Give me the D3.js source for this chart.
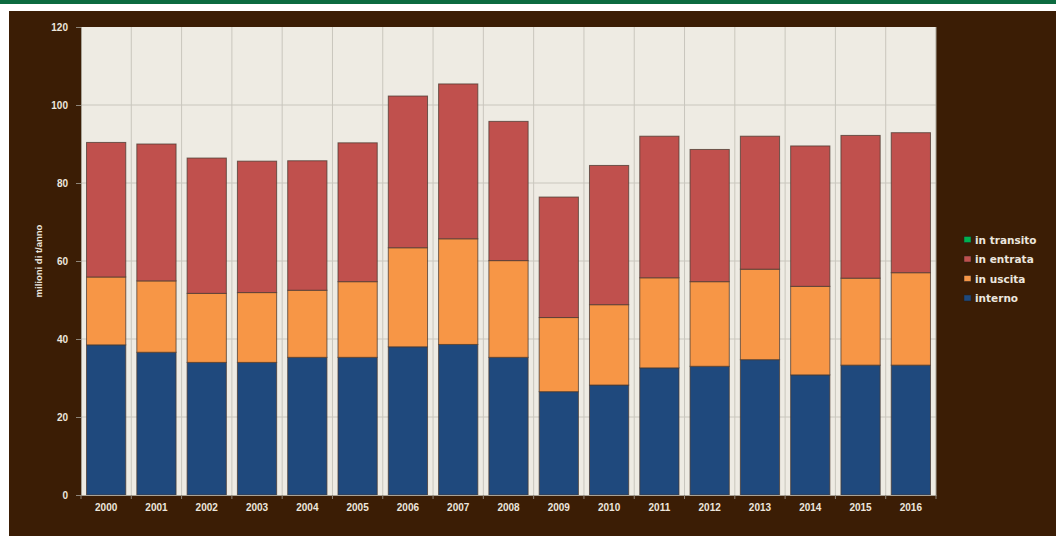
<!DOCTYPE html>
<html>
<head>
<meta charset="utf-8">
<script src="https://cdn.jsdelivr.net/npm/d3@7"></script>
<style>
  body { margin: 0; background: #fff; }
  svg { display: block; font-family: "DejaVu Sans", sans-serif; }
</style>
</head>
<body>
<svg id="chart" width="1056" height="536"></svg>
<script>
// anni e serie (milioni di t/anno)
const years = ["2000","2001","2002","2003","2004","2005","2006","2007","2008",
               "2009","2010","2011","2012","2013","2014","2015","2016"];
const interno  = [38.5, 36.6, 34.0, 34.0, 35.3, 35.3, 38.0, 38.6, 35.3, 26.5, 28.2, 32.6, 33.0, 34.7, 30.8, 33.3, 33.3];
// totali cumulati, poi convertiti in valori della serie
const cumUscita  = [55.9, 54.9, 51.7, 51.9, 52.5, 54.7, 63.4, 65.7, 60.1, 45.5, 48.8, 55.7, 54.7, 57.9, 53.5, 55.6, 57.0];
const cumEntrata = [90.4, 90.0, 86.4, 85.6, 85.7, 90.3, 102.3, 105.4, 95.8, 76.4, 84.5, 92.0, 88.6, 92.0, 89.5, 92.2, 92.9];
const uscita   = cumUscita.map((v, i) => +(v - interno[i]).toFixed(1));
const entrata  = cumEntrata.map((v, i) => +(v - cumUscita[i]).toFixed(1));
const transito = [0, 0, 0, 0, 0, 0, 0, 0, 0, 0, 0, 0, 0, 0, 0, 0, 0];
const keys = ["interno", "in uscita", "in entrata", "in transito"];
const yTicks = [0, 20, 40, 60, 80, 100, 120];

const data = years.map((y, i) => ({
  anno: y, "interno": interno[i], "in uscita": uscita[i],
  "in entrata": entrata[i], "in transito": transito[i]
}));

const svg = d3.select("#chart");
const margin = {top: 27, left: 81, bottom: 41, right: 120},
      width = 1056, height = 536;
const textCol = "#ece6de";

// sfondo
svg.append("rect").attr("x", 0).attr("y", 0).attr("width", width).attr("height", 4).attr("fill", "#0c6b40");
svg.append("rect").attr("x", 9).attr("y", 11).attr("width", width - 9).attr("height", height - 11).attr("fill", "#3b1d05");

var x = d3.scaleBand().domain(years).range([margin.left, 936]).paddingInner(0).paddingOuter(0);
var y = d3.scaleLinear().domain([0, 120]).range([495, margin.top]);

var color = d3.scaleOrdinal()
  .domain(keys)
  .range(["#1f497d", "#f79646", "#c0504d", "#00b050"]);

svg.append("rect")
  .attr("x", x.range()[0]).attr("y", y(120))
  .attr("width", x.range()[1] - x.range()[0]).attr("height", y(0) - y(120))
  .attr("fill", "#eeebe3");

// griglia
svg.append("g").selectAll("line").data(yTicks.slice(1, -1))
  .enter().append("line")
  .attr("x1", x.range()[0]).attr("x2", x.range()[1])
  .attr("y1", d => y(d)).attr("y2", d => y(d))
  .attr("stroke", "#c9c6bd").attr("stroke-width", 1);
svg.append("g").selectAll("line").data(years.slice(1))
  .enter().append("line")
  .attr("x1", d => x(d)).attr("x2", d => x(d))
  .attr("y1", y(120)).attr("y2", y(0))
  .attr("stroke", "#c9c6bd").attr("stroke-width", 1);

// barre
var barW = x.bandwidth() * 0.78;
var layers = svg.append("g").selectAll("g.layer")
  .data(d3.stack().keys(keys)(data))
  .enter().append("g")
  .classed("layer", true)
  .attr("fill", d => color(d.key));

layers.selectAll("rect")
  .data(d => d)
  .enter().append("rect")
  .attr("x", d => x(d.data.anno) + (x.bandwidth() - barW) / 2)
  .attr("y", d => y(d[1]))
  .attr("width", barW)
  .attr("height", d => y(d[0]) - y(d[1]))
  .attr("stroke", "#4a3a30")
  .attr("stroke-opacity", 0.75)
  .attr("stroke-width", 1);

// assi
var yAxis = svg.append("g")
  .attr("transform", `translate(${margin.left},0)`)
  .call(d3.axisLeft(y).tickValues(yTicks).tickSize(5).tickPadding(8));
var xAxis = svg.append("g")
  .attr("transform", `translate(0,${y(0)})`)
  .call(d3.axisBottom(x).tickSize(0).tickPadding(9));

// tacche sull'asse x ai bordi delle categorie
svg.append("g").selectAll("line").data(years.concat(["end"]))
  .enter().append("line")
  .attr("x1", d => d === "end" ? x.range()[1] : x(d))
  .attr("x2", d => d === "end" ? x.range()[1] : x(d))
  .attr("y1", y(0)).attr("y2", y(0) + 4)
  .attr("stroke", "#8d8478");

[yAxis, xAxis].forEach(a => {
  a.select(".domain").attr("stroke", "#a8a296");
  a.selectAll(".tick line").attr("stroke", "#8d8478");
  a.selectAll("text").attr("fill", textCol).style("font-size", "10px").style("font-weight", "bold");
});
xAxis.selectAll("text").attr("dy", "0.71em");

svg.append("line")
  .attr("x1", x.range()[1]).attr("x2", x.range()[1])
  .attr("y1", y(120)).attr("y2", y(0))
  .attr("stroke", "#a8a296");

svg.append("text")
  .attr("transform", `translate(42,${(y(0) + y(120)) / 2}) rotate(-90)`)
  .attr("text-anchor", "middle")
  .attr("fill", textCol)
  .style("font-family", "'Liberation Sans', sans-serif")
  .style("font-size", "9.5px").style("font-weight", "bold")
  .text("milioni di t/anno");

// legenda
var legendKeys = keys.slice().reverse();
var legend = svg.append("g").selectAll("g").data(legendKeys)
  .enter().append("g")
  .attr("transform", (d, i) => `translate(964,${240 + i * 19.5})`);
legend.append("rect")
  .attr("x", 0).attr("y", -3.5).attr("width", 7).attr("height", 6)
  .attr("fill", d => color(d)).attr("stroke", "#222").attr("stroke-width", 0.5);
legend.append("text")
  .attr("x", 11).attr("y", 0).attr("dy", "0.35em")
  .attr("fill", textCol)
  .style("font-size", "10.5px").style("font-weight", "bold")
  .text(d => d);
</script>
</body>
</html>
